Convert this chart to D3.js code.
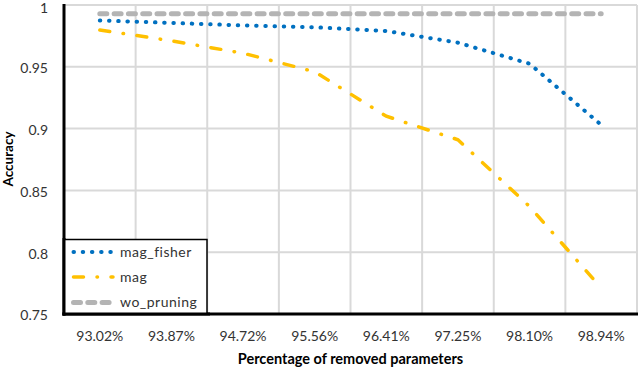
<!DOCTYPE html>
<html>
<head>
<meta charset="utf-8">
<script src="https://cdn.jsdelivr.net/npm/d3@7"></script>
<style>
  html, body { margin: 0; padding: 0; background: #fff; }
  svg { display: block; font-family: Lato, "Open Sans", sans-serif; }
</style>
</head>
<body>
<svg id="chart" width="640" height="369"></svg>
<script>
const categories = ["93.02%", "93.87%", "94.72%", "95.56%", "96.41%", "97.25%", "98.10%", "98.94%"];
const magFisher = [0.9875, 0.9855, 0.9835, 0.982, 0.979, 0.9695, 0.9525, 0.903];
const mag = [0.9798, 0.971, 0.961, 0.946, 0.910, 0.891, 0.837, 0.771];
const woPruning = [0.993, 0.993, 0.993, 0.993, 0.993, 0.993, 0.993, 0.993];
const yTicks = [0.75, 0.8, 0.85, 0.9, 0.95, 1];
const seriesNames = ["mag_fisher", "mag", "wo_pruning"];

const series = [
  { name: seriesNames[0], values: magFisher, color: "#0070C0", width: 4, dash: "0.5,8.7" },
  { name: seriesNames[1], values: mag, color: "#FFC000", width: 3.5, dash: "10,13.5,0.5,13.5" },
  { name: seriesNames[2], values: woPruning, color: "#B4B4B4", width: 5, dash: "7,7.3" }
];

const mLeft = 64, mRight = 637, mTop = 5, mBottom = 314;
const svg = d3.select("#chart");

const x = d3.scaleBand().domain(categories).range([mLeft, mRight]).paddingInner(0).paddingOuter(0);
const y = d3.scaleLinear().domain([0.75, 1]).range([mBottom, mTop]);
const cx = c => x(c) + x.bandwidth() / 2;

// gridlines
const grid = svg.append("g").attr("stroke", "#d9d9d9").attr("stroke-width", 2);
grid.selectAll("line.h").data(yTicks).join("line")
  .attr("x1", mLeft).attr("x2", mRight)
  .attr("y1", d => y(d)).attr("y2", d => y(d));
const edges = categories.map(c => x(c)).concat([x(categories[categories.length - 1]) + x.bandwidth()]);
grid.selectAll("line.v").data(edges).join("line")
  .attr("x1", d => d).attr("x2", d => d)
  .attr("y1", mTop).attr("y2", mBottom);

// series lines
const line = d3.line().x((d, i) => cx(categories[i])).y(d => y(d));
series.slice().reverse().forEach(s => {
  svg.append("path")
    .datum(s.values)
    .attr("d", line)
    .attr("fill", "none")
    .attr("stroke", s.color)
    .attr("stroke-width", s.width)
    .attr("stroke-dasharray", s.dash)
    .attr("stroke-linecap", "round");
});

// axes
const yAxis = d3.axisLeft(y).tickValues(yTicks).tickSize(0).tickPadding(16)
  .tickFormat(d => String(+d.toFixed(2)));
const gy = svg.append("g").attr("transform", `translate(${mLeft},0)`).call(yAxis);
gy.select(".domain").remove();
gy.selectAll("text").attr("font-size", 14).attr("fill", "#333").attr("font-family", "Lato, sans-serif")
  .attr("dy", d => d === 1 ? "0.55em" : "0.42em");

const xAxis = d3.axisBottom(x).tickSize(0).tickPadding(17);
const gx = svg.append("g").attr("transform", `translate(0,${mBottom})`).call(xAxis);
gx.select(".domain").remove();
gx.selectAll("text").attr("font-size", 14).attr("fill", "#333").attr("font-family", "Lato, sans-serif");

// axis lines
svg.append("line").attr("x1", mLeft).attr("x2", mLeft).attr("y1", mTop - 1).attr("y2", mBottom + 1.5)
  .attr("stroke", "#000").attr("stroke-width", 3);
svg.append("line").attr("x1", mLeft - 1.5).attr("x2", mRight + 1).attr("y1", mBottom).attr("y2", mBottom)
  .attr("stroke", "#000").attr("stroke-width", 3);

// axis titles
svg.append("text")
  .attr("transform", `translate(13,159) rotate(-90)`)
  .attr("text-anchor", "middle")
  .attr("font-size", 13.5).attr("font-weight", "bold").attr("fill", "#000")
  .text("Accuracy");
svg.append("text")
  .attr("x", (mLeft + mRight) / 2).attr("y", 364)
  .attr("text-anchor", "middle")
  .attr("font-size", 14.5).attr("font-weight", "bold").attr("fill", "#000")
  .text("Percentage of removed parameters");

// legend
const lg = svg.append("g");
lg.append("rect").attr("x", mLeft).attr("y", 239.5).attr("width", 143).attr("height", mBottom - 239.5)
  .attr("fill", "#fff").attr("stroke", "#000").attr("stroke-width", 1.5);
const rowY = [252, 277, 302.5];
series.forEach((s, i) => {
  lg.append("line")
    .attr("x1", 73.5).attr("x2", 113).attr("y1", rowY[i]).attr("y2", rowY[i])
    .attr("stroke", s.color).attr("stroke-width", s.width)
    .attr("stroke-dasharray", s.dash).attr("stroke-linecap", "round");
  lg.append("text")
    .attr("x", 120).attr("y", rowY[i]).attr("dy", "0.35em")
    .attr("font-size", 14).attr("letter-spacing", 0.5).attr("fill", "#333")
    .text(s.name);
});
svg.append("line").attr("x1", mLeft).attr("x2", mLeft).attr("y1", 238).attr("y2", mBottom + 1.5)
  .attr("stroke", "#000").attr("stroke-width", 3);
svg.append("line").attr("x1", mLeft - 1.5).attr("x2", 210).attr("y1", mBottom).attr("y2", mBottom)
  .attr("stroke", "#000").attr("stroke-width", 3);
</script>
</body>
</html>
